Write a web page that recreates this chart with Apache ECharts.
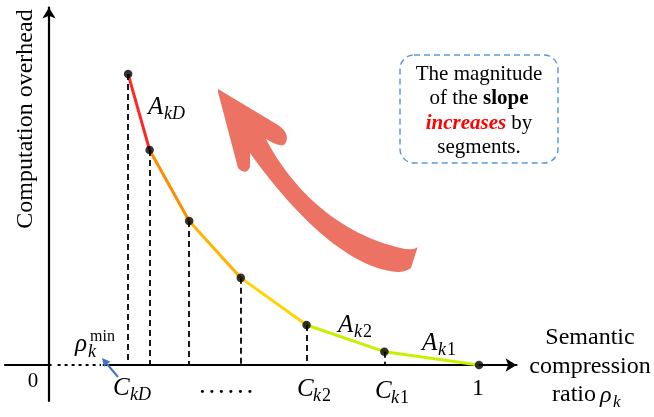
<!DOCTYPE html>
<html><head><meta charset="utf-8">
<script src="https://cdn.jsdelivr.net/npm/echarts@6/dist/echarts.min.js"></script>
<style>html,body{margin:0;padding:0;background:#fff}#c{width:654px;height:417px}</style>
</head><body><div id="c"></div>
<script>
// ---- data ----
const ratios   = [0.184, 0.234, 0.326, 0.446, 0.599, 0.780, 1.0];   // semantic compression ratio
const overhead = [80.8, 59.7, 40.0, 24.2, 11.1, 3.7, 0];             // computation overhead
const segmentColors = ['#FF2626', '#FF8C00', '#FFB400', '#FFD400', '#CCEE00', '#CCEE00'];
const rhoMin = 0.125;
const xRange = [-0.1023, 1.0872];
const yRange = [-10, 99.3];

const chart = echarts.init(document.getElementById('c'), null, {renderer: 'canvas'});

const serif = '"Liberation Serif", "Times New Roman", serif';
const series = [];
// dotted part of the x axis (0 .. rhoMin)
series.push({type: 'line', silent: true, symbol: 'none', z: 2,
  data: [[0.006, 0], [rhoMin, 0]], lineStyle: {color: '#fff', width: 4}});
series.push({type: 'line', silent: true, symbol: 'none', z: 3,
  data: [[0.02, 0], [rhoMin - 0.004, 0]], lineStyle: {color: '#000', width: 2.2, type: [3, 4], cap: 'butt'}});
// dashed drops
series.push({type: 'line', data: [], silent: true,
  markLine: {silent: true, symbol: 'none', animation: false, label: {show: false},
    lineStyle: {type: [6, 4], color: '#000', width: 1.8},
    data: ratios.slice(0, -1).map((x, i) => [{coord: [x, overhead[i]]}, {coord: [x, 0]}])}});
// coloured segments
for (let i = 0; i < ratios.length - 1; i++) {
  series.push({type: 'line', silent: true, symbol: 'none', z: 4,
    data: [[ratios[i], overhead[i]], [ratios[i + 1], overhead[i + 1]]],
    lineStyle: {color: segmentColors[i], width: 3}});
}
// points
series.push({type: 'scatter', z: 6, symbolSize: 8.5, itemStyle: {color: '#000'},
  data: ratios.map((x, i) => [x, overhead[i]])});

function txt(x, y, text, font, opts) {
  opts = opts || {};
  return Object.assign({type: 'text', x: x, y: y, z: 100, silent: true,
    style: {text: text, font: font, fill: opts.fill || '#000',
      textAlign: opts.align || 'left', align: opts.align || 'left',
      textVerticalAlign: 'middle', verticalAlign: 'middle'}}, opts.el || {});
}
const mathBase = 'italic 25px ' + serif;
const mathSub = 'italic 18px ' + serif;
const subUp = '18px ' + serif;
function mathLabel(x, y, base, subItalic, subUpright, sx, sy) {
  const els = [txt(x, y, base, mathBase)];
  els.push(txt(sx, sy, subItalic, mathSub));
  if (subUpright) {
    const c = document.createElement('canvas').getContext('2d');
    c.font = mathSub; const w = c.measureText(subItalic).width;
    els.push(txt(sx + w + 1, sy, subUpright, subUp));
  }
  return els;
}
// sample a simple path (M/L/Q/C) into polygon points
function samplePath(cmds) {
  const pts = []; let cx = 0, cy = 0; const N = 16;
  cmds.forEach(c => {
    const t0 = c[0];
    if (t0 === 'M' || t0 === 'L') { cx = c[1]; cy = c[2]; pts.push([cx, cy]); }
    else if (t0 === 'Q') {
      for (let k = 1; k <= N; k++) { const t = k / N, u = 1 - t;
        pts.push([u*u*cx + 2*u*t*c[1] + t*t*c[3], u*u*cy + 2*u*t*c[2] + t*t*c[4]]); }
      cx = c[3]; cy = c[4];
    } else if (t0 === 'C') {
      for (let k = 1; k <= N * 2; k++) { const t = k / (N * 2), u = 1 - t;
        pts.push([u*u*u*cx + 3*u*u*t*c[1] + 3*u*t*t*c[3] + t*t*t*c[5],
                  u*u*u*cy + 3*u*u*t*c[2] + 3*u*t*t*c[4] + t*t*t*c[6]]); }
      cx = c[5]; cy = c[6];
    }
  });
  return pts;
}

const graphic = [];
graphic.push(...mathLabel(148, 107, 'A', 'kD', '', 164, 114));
graphic.push(...mathLabel(338, 325, 'A', 'k', '2', 354, 332));
graphic.push(...mathLabel(422, 343, 'A', 'k', '1', 438, 350));
graphic.push(...mathLabel(113, 388, 'C', 'kD', '', 130, 395));
graphic.push(...mathLabel(297, 389, 'C', 'k', '2', 313, 396));
graphic.push(...mathLabel(375, 391, 'C', 'k', '1', 391, 398));
// rho_k^min
graphic.push(txt(75, 344, 'ρ', mathBase));
graphic.push(txt(88, 352, 'k', mathSub));
graphic.push(txt(90, 337, 'min', '16px ' + serif));
// numbers
graphic.push(txt(33, 381, '0', '21px ' + serif, {align: 'center'}));
graphic.push(txt(478, 389, '1', '24px ' + serif, {align: 'center'}));
graphic.push(txt(226, 388, '. . . . . .', 'bold 19px ' + serif, {align: 'center'}));
// axis titles
graphic.push(txt(26, 119, 'Computation overhead', '24px ' + serif,
  {align: 'center', el: {rotation: Math.PI / 2}}));
graphic.push(txt(590, 338, 'Semantic', '24px ' + serif, {align: 'center'}));
graphic.push(txt(590, 367, 'compression', '24px ' + serif, {align: 'center'}));
graphic.push(txt(596, 395, 'ratio', '24px ' + serif, {align: 'right'}));
graphic.push(txt(600, 396, 'ρ', 'italic 24px ' + serif));
graphic.push(txt(613, 403, 'k', 'italic 17px ' + serif));
// box
graphic.push({type: 'rect', z: 90, silent: true, shape: {x: 400, y: 55, width: 158, height: 108, r: 14},
  style: {fill: 'none', stroke: '#5B9BD5', lineWidth: 1.5, lineDash: [6, 4]}});
graphic.push({type: 'text', x: 479, y: 111, z: 100, silent: true,
  style: {text: '{n|The magnitude}\n{n|of the }{b|slope}\n{r|increases}{n| by}\n{n|segments.}',
    textAlign: 'center', align: 'center', textVerticalAlign: 'middle', verticalAlign: 'middle',
    rich: {
      n: {font: '21px ' + serif, fill: '#000', lineHeight: 24.5},
      b: {font: 'bold 21px ' + serif, fill: '#000', lineHeight: 24.5},
      r: {font: 'italic bold 21px ' + serif, fill: '#FF0000', lineHeight: 24.5}
    }}});
// big curved arrow
const arrowPts = samplePath([
  ['M', 218, 89], ['L', 278, 125], ['Q', 291, 134, 285, 144], ['Q', 281, 148, 266, 139],
  ['C', 283, 172, 325, 232, 405, 249], ['Q', 417, 250, 418, 246], ['L', 411, 268], ['Q', 405, 272, 398, 272],
  ['C', 340, 268, 280, 195, 250, 153], ['L', 250, 167], ['Q', 246, 176, 238, 168], ['L', 218, 92]
]);
graphic.push({type: 'polygon', z: 50, silent: true, shape: {points: arrowPts},
  style: {fill: '#EC7263'}});
// small blue arrow
graphic.push({type: 'line', z: 60, silent: true, shape: {x1: 118, y1: 377, x2: 107, y2: 364},
  style: {stroke: '#4472C4', lineWidth: 2}});
graphic.push({type: 'polygon', z: 60, silent: true, shape: {points: [[102, 358], [110.2, 361.5], [104.1, 366.7]]},
  style: {fill: '#4472C4'}});

chart.setOption({
  animation: false,
  backgroundColor: '#fff',
  grid: {left: 5, right: 137.5, top: 7.5, bottom: 16, containLabel: false},
  xAxis: {type: 'value', min: xRange[0], max: xRange[1],
    axisLine: {show: true, onZero: true, symbol: ['none', 'arrow'], symbolSize: [10, 11],
      lineStyle: {color: '#000', width: 2.2}},
    axisTick: {show: false}, axisLabel: {show: false}, splitLine: {show: false}},
  yAxis: {type: 'value', min: yRange[0], max: yRange[1],
    axisLine: {show: true, onZero: true, symbol: ['none', 'arrow'], symbolSize: [10, 11],
      lineStyle: {color: '#000', width: 2.2}},
    axisTick: {show: false}, axisLabel: {show: false}, splitLine: {show: false}},
  series: series,
  graphic: graphic
});
</script></body></html>
